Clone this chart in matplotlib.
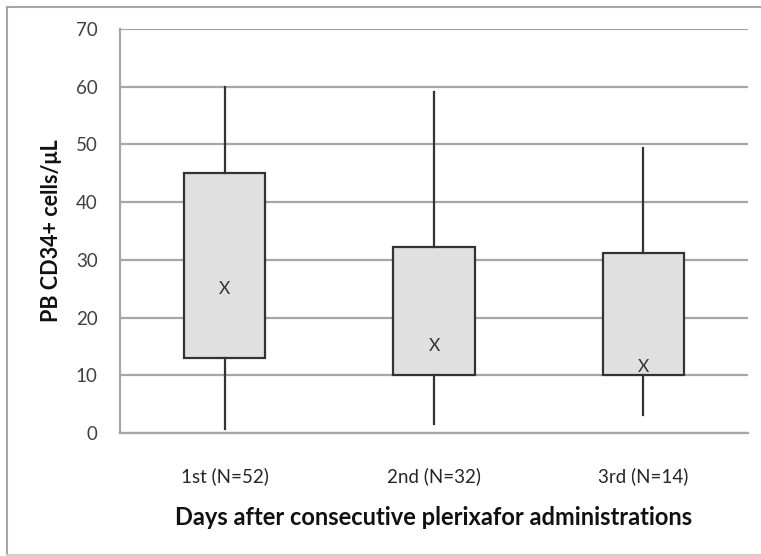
import matplotlib
matplotlib.use("Agg")
import matplotlib.pyplot as plt
from matplotlib.lines import Line2D

categories = ["1st (N=52)", "2nd (N=32)", "3rd (N=14)"]
q1 = [13.0, 10.0, 10.0]
q3 = [45.0, 32.3, 31.2]
whisker_low = [0.7, 1.5, 3.1]
whisker_high = [60.0, 59.0, 49.4]
x_marks = [25.0, 15.0, 11.5]
yticks = [0, 10, 20, 30, 40, 50, 60, 70]

FAM = ["Lato", "DejaVu Sans"]
W, H = 761, 556
fig = plt.figure(figsize=(W / 100, H / 100), dpi=100)
ax = fig.add_axes([120 / W, 1 - 433 / H, (748 - 120) / W, (433 - 29) / H])

stats = []
for i in range(3):
    stats.append(dict(med=x_marks[i], q1=q1[i], q3=q3[i],
                      whislo=whisker_low[i], whishi=whisker_high[i], fliers=[]))

pos = [1, 3, 5]
ax.bxp(stats, positions=pos, widths=0.78, patch_artist=True, showcaps=False,
       showfliers=False, zorder=3,
       boxprops=dict(facecolor="#e0e0e0", edgecolor="#333333", linewidth=1.6),
       whiskerprops=dict(color="#333333", linewidth=1.6),
       medianprops=dict(linewidth=0))

for p, v in zip(pos, x_marks):
    ax.text(p, v, "X", ha="center", va="center", fontsize=12.5,
            family=FAM, color="#333333", zorder=4)

ax.set_xlim(0, 6)
ax.set_ylim(0, 70)
ax.set_yticks(yticks)
ax.set_xticks(pos)
ax.set_xticklabels(categories)
ax.yaxis.grid(True, color="#a6a6a6", linewidth=1.6, zorder=0)
ax.set_axisbelow(True)
for s in ["top", "right"]:
    ax.spines[s].set_visible(False)
for s in ["left", "bottom"]:
    ax.spines[s].set_color("#a6a6a6")
    ax.spines[s].set_linewidth(1.6)
ax.tick_params(axis="y", length=0, pad=16, labelsize=13.5, labelcolor="#404040")
ax.tick_params(axis="x", length=0, pad=25, labelsize=13.5, labelcolor="#262626")
for lab in ax.get_xticklabels() + ax.get_yticklabels():
    lab.set_family(FAM)

ax.set_ylabel("PB CD34+ cells/μL", fontsize=15.5, fontweight="bold",
              family=FAM, labelpad=10, color="#111111")
ax.set_xlabel("Days after consecutive plerixafor administrations", fontsize=17,
              fontweight="bold", family=FAM, labelpad=15, color="#111111")

# outer border
bc = "#a6a6a6"
fig.add_artist(Line2D([7 / W, 7 / W], [1 - 7 / H, 1 - 555 / H], color=bc, lw=1.5))
fig.add_artist(Line2D([7 / W, 1], [1 - 7 / H, 1 - 7 / H], color=bc, lw=1.5))
fig.add_artist(Line2D([7 / W, 1], [1 - 555 / H, 1 - 555 / H], color="#d0d0d0", lw=1.5))

fig.savefig("out.png", dpi=100)
